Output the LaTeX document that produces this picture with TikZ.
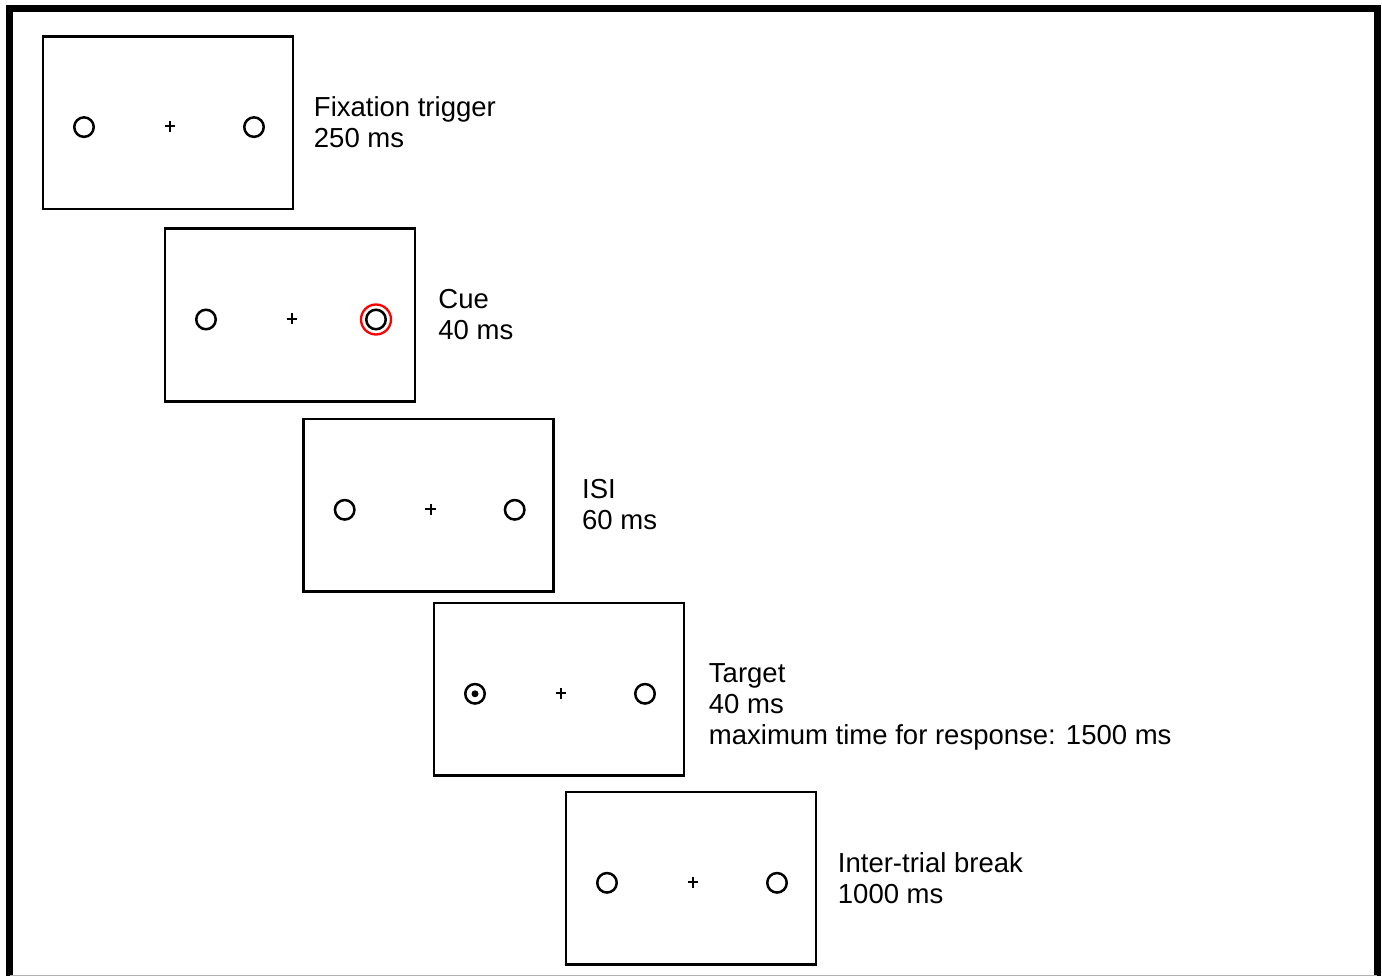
\documentclass[tikz,border=0pt]{standalone}
\usepackage{fontspec}
\setmainfont{Liberation Sans}
\usetikzlibrary{positioning}
\usetikzlibrary{shapes.misc}

\begin{document}
\begin{tikzpicture}[x=1pt,y=-1pt,
    screen/.style={draw, line width=2.5pt, minimum width=250pt, minimum height=172.5pt, inner sep=0pt},
    stim/.style={draw, circle, line width=2.5pt, minimum size=19.5pt, inner sep=0pt},
    fixcross/.style={cross out, draw, line width=2pt, rotate=45, minimum size=5.7pt, inner sep=0pt},
    cuering/.style={draw=red, circle, line width=2.3pt, minimum size=30pt, inner sep=0pt},
    targetdot/.style={fill, circle, minimum size=7pt, inner sep=0pt},
    phase/.style={align=left, inner sep=0pt, font=\fontsize{27.5}{31}\selectfont}]
        \useasboundingbox (0,0) rectangle (1382,976);
        % \draw[help lines] (0,0) grid (1382,976);

      % outer frame
      \draw[line width=7pt] (9.5,976) |- (1377,9) -- (1377,976);
      \draw[gray!60, line width=1pt] (9.5,975.5) -- (1377,975.5);

      % screens
      \node[screen] (fix) at (168,122.6) {};
      \node[screen] (cue) at (290,315)   {};
      \node[screen] (isi) at (428.7,505.3) {};
      \node[screen] (tgt) at (559,689.3) {};
      \node[screen] (iti) at (691,878.3) {};

      % placeholders and fixation crosses
      \node[stim]     (fix_l) at (84,127.1)    {};
      \node[fixcross] (fix_c) at (170,126.4)   {};
      \node[stim]     (fix_r) at (254,127.1)   {};

      \node[stim]     (cue_l) at (206,319.5)   {};
      \node[fixcross] (cue_c) at (292,318.8)   {};
      \node[stim]     (cue_r) at (376,319.5)   {};
      \node[cuering]  (cue_ring) at (cue_r)    {};

      \node[stim]     (isi_l) at (344.7,509.8) {};
      \node[fixcross] (isi_c) at (430.7,509.1) {};
      \node[stim]     (isi_r) at (514.7,509.8) {};

      \node[stim]     (tgt_l) at (475,693.8)   {};
      \node[targetdot] (tgt_dot) at (tgt_l)    {};
      \node[fixcross] (tgt_c) at (561,693.1)   {};
      \node[stim]     (tgt_r) at (645,693.8)   {};

      \node[stim]     (iti_l) at (607,882.8)   {};
      \node[fixcross] (iti_c) at (693,882.1)   {};
      \node[stim]     (iti_r) at (777,882.8)   {};

      % phase labels
      \node[phase, below right=61.5pt and 19.5pt of fix.north east] (fix_txt) {Fixation trigger\\250 ms};
      \node[phase, below right=61.5pt and 22pt of cue.north east] (cue_txt) {Cue\\40 ms};
      \node[phase, below right=61.5pt and 27pt of isi.north east] (isi_txt) {ISI\\60 ms};
      \node[phase, below right=61.5pt and 23.5pt of tgt.north east] (tgt_txt) {Target\\40 ms\\maximum time for response: 1500 ms};
      \node[phase, below right=61.5pt and 20.5pt of iti.north east] (iti_txt) {Inter-trial break\\1000 ms};
\end{tikzpicture}
\end{document}
